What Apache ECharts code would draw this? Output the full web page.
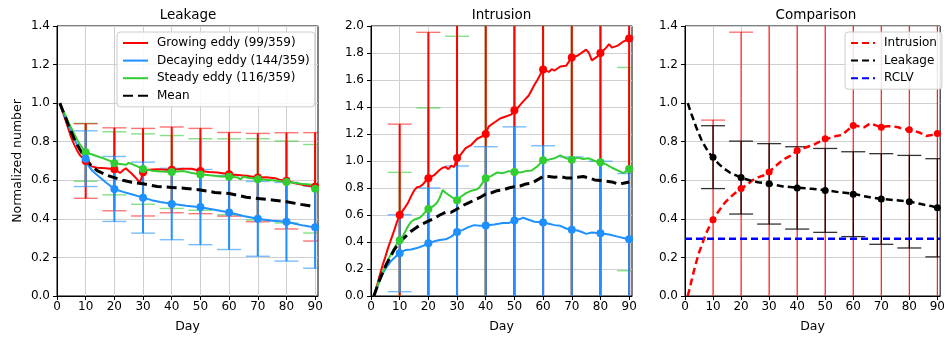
<!DOCTYPE html>
<html>
<head>
<meta charset="utf-8">
<script src="https://cdn.jsdelivr.net/npm/echarts@6/dist/echarts.min.js"></script>
<style>html,body{margin:0;padding:0;background:#fff}#c{width:948px;height:338px}</style>
</head>
<body>
<div id="c"></div>
<script>
// ---------- data ----------
const xTicks = [0,10,20,30,40,50,60,70,80,90];
const errDays = [10,20,30,40,50,60,70,80,90];

// Leakage panel
const leakGrowing = [[1,1.0],[2,0.955],[3,0.91],[4,0.865],[5,0.82],[6,0.785],[7,0.755],[8,0.73],[9,0.715],[10,0.70],[11,0.685],[12,0.672],[14,0.665],[17,0.662],[20,0.657],[21,0.648],[22,0.638],[23,0.652],[24,0.662],[25,0.648],[26,0.635],[27,0.62],[28,0.603],[29,0.59],[30,0.642],[32,0.655],[35,0.657],[38,0.655],[40,0.654],[44,0.66],[47,0.66],[50,0.648],[53,0.643],[56,0.64],[60,0.631],[63,0.628],[66,0.624],[70,0.614],[73,0.616],[76,0.611],[78,0.601],[80,0.597],[83,0.585],[86,0.576],[88,0.57],[90,0.566]];
const leakDecaying = [[1,1.0],[2,0.96],[3,0.925],[4,0.885],[5,0.85],[6,0.815],[7,0.785],[8,0.76],[9,0.735],[10,0.712],[11,0.675],[12,0.655],[13,0.64],[15,0.615],[17,0.59],[20,0.555],[23,0.54],[26,0.528],[30,0.51],[33,0.497],[36,0.487],[40,0.478],[45,0.468],[50,0.46],[55,0.447],[60,0.433],[65,0.415],[70,0.401],[75,0.39],[80,0.385],[83,0.375],[86,0.365],[88,0.36],[90,0.356]];
const leakSteady = [[1,1.0],[2,0.965],[3,0.935],[4,0.9],[5,0.87],[6,0.84],[7,0.81],[8,0.785],[9,0.765],[10,0.745],[12,0.735],[14,0.725],[16,0.715],[18,0.703],[20,0.69],[22,0.685],[24,0.68],[25,0.69],[26,0.685],[28,0.672],[30,0.66],[33,0.65],[36,0.645],[40,0.643],[44,0.648],[47,0.638],[50,0.631],[54,0.625],[57,0.62],[60,0.619],[63,0.615],[64,0.605],[65,0.62],[67,0.612],[70,0.606],[75,0.6],[80,0.592],[85,0.582],[90,0.575]];
const leakMean = [[1,1.0],[2,0.962],[3,0.925],[4,0.885],[5,0.85],[6,0.815],[7,0.785],[8,0.76],[9,0.735],[10,0.712],[12,0.675],[14,0.65],[17,0.628],[20,0.614],[23,0.6],[26,0.59],[30,0.582],[35,0.568],[40,0.563],[45,0.558],[50,0.55],[55,0.537],[60,0.531],[63,0.522],[66,0.512],[70,0.506],[75,0.498],[80,0.489],[85,0.475],[88,0.468],[90,0.46]];
const leakGrowMean = [0.70,0.657,0.642,0.654,0.648,0.631,0.614,0.597,0.566];
const leakGrowErr  = [0.1935,0.215,0.227,0.2225,0.221,0.217,0.229,0.2495,0.281];
const leakDecMean  = [0.712,0.555,0.51,0.477,0.461,0.433,0.4,0.385,0.356];
const leakDecErr   = [0.1445,0.1685,0.184,0.185,0.195,0.192,0.194,0.204,0.212];
const leakSteMean  = [0.745,0.688,0.658,0.643,0.63,0.618,0.605,0.591,0.556];
const leakSteErr   = [0.15,0.1635,0.1825,0.189,0.1855,0.197,0.2105,0.2125,0.2295];

// Intrusion panel
const intrGrowing = [[1,0],[2,0.07],[3,0.15],[4,0.225],[5,0.29],[6,0.36],[7,0.42],[8,0.48],[9,0.545],[10,0.60],[11,0.63],[12,0.66],[13,0.695],[14,0.74],[15,0.78],[16,0.805],[17,0.81],[18,0.825],[19,0.85],[20,0.872],[22,0.895],[24,0.935],[25,0.95],[26,0.955],[27,0.94],[28,0.965],[29,0.955],[30,1.025],[31,1.04],[33,1.095],[35,1.12],[37,1.165],[39,1.185],[40,1.2],[41,1.255],[43,1.285],[45,1.315],[47,1.33],[49,1.345],[50,1.376],[51,1.39],[53,1.44],[55,1.485],[57,1.565],[58,1.6],[59,1.64],[60,1.676],[61,1.67],[62,1.66],[63,1.68],[64,1.67],[66,1.70],[68,1.705],[70,1.768],[72,1.78],[74,1.81],[75,1.825],[76,1.80],[77,1.745],[79,1.775],[80,1.795],[82,1.84],[83,1.865],[84,1.84],[86,1.855],[88,1.885],[90,1.908]];
const intrSteady = [[1,0],[2,0.06],[3,0.12],[4,0.17],[5,0.22],[6,0.27],[7,0.31],[8,0.35],[9,0.385],[10,0.413],[11,0.44],[12,0.48],[13,0.52],[14,0.55],[15,0.565],[17,0.58],[18,0.6],[20,0.645],[22,0.67],[23,0.69],[24,0.73],[25,0.785],[26,0.765],[27,0.75],[28,0.735],[29,0.72],[30,0.71],[31,0.73],[33,0.76],[35,0.78],[37,0.79],[38,0.81],[40,0.873],[42,0.89],[44,0.915],[46,0.91],[48,0.925],[50,0.918],[52,0.915],[54,0.925],[56,0.93],[58,0.96],[60,1.005],[62,1.01],[64,1.02],[66,1.042],[68,1.02],[70,1.01],[72,1.025],[74,1.015],[76,1.02],[78,1.0],[80,0.99],[82,0.975],[84,0.95],[86,0.93],[88,0.91],[89,0.925],[90,0.94]];
const intrDecaying = [[1,0],[2,0.06],[3,0.11],[4,0.16],[5,0.2],[6,0.23],[7,0.26],[8,0.28],[9,0.3],[10,0.317],[11,0.33],[12,0.34],[14,0.345],[16,0.355],[18,0.37],[20,0.39],[22,0.405],[24,0.415],[26,0.42],[28,0.44],[30,0.474],[32,0.49],[34,0.51],[36,0.525],[38,0.52],[40,0.523],[43,0.53],[46,0.54],[48,0.54],[50,0.56],[52,0.57],[53,0.58],[55,0.565],[57,0.55],[60,0.545],[62,0.535],[64,0.525],[66,0.52],[68,0.5],[70,0.49],[72,0.485],[74,0.47],[75,0.46],[77,0.47],[80,0.465],[83,0.455],[86,0.44],[88,0.43],[90,0.42]];
const intrMean = [[1,0],[2,0.06],[3,0.12],[4,0.17],[5,0.22],[6,0.26],[7,0.3],[8,0.34],[9,0.37],[10,0.4],[12,0.44],[14,0.48],[16,0.51],[18,0.535],[20,0.555],[22,0.575],[24,0.6],[26,0.62],[28,0.62],[30,0.645],[32,0.67],[34,0.69],[36,0.71],[38,0.73],[40,0.755],[42,0.765],[44,0.78],[46,0.785],[48,0.8],[50,0.81],[52,0.815],[54,0.83],[56,0.835],[58,0.86],[60,0.885],[62,0.885],[64,0.88],[66,0.885],[68,0.875],[70,0.875],[72,0.88],[74,0.885],[76,0.875],[78,0.86],[80,0.855],[82,0.85],[84,0.845],[86,0.83],[88,0.835],[90,0.845]];
const intrGrowMean = [0.60,0.872,1.022,1.20,1.376,1.678,1.767,1.80,1.907];
const intrGrowErr  = [0.673,1.081,1.3,1.5,1.7,1.9,2.0,2.1,2.2];
const intrSteMean  = [0.413,0.645,0.71,0.873,0.918,1.005,1.01,0.99,0.94];
const intrSteErr   = [0.503,0.748,1.214,1.3,1.35,1.3,1.25,1.2,0.753];
const intrDecMean  = [0.317,0.39,0.474,0.523,0.56,0.545,0.49,0.465,0.42];
const intrDecErr   = [0.285,0.41,0.489,0.583,0.693,0.568,0.54,0.533,0.487];

// Comparison panel
const compIntr = [[1,0],[2,0.06],[3,0.12],[4,0.175],[5,0.225],[6,0.265],[7,0.305],[8,0.34],[9,0.37],[10,0.396],[12,0.44],[14,0.48],[16,0.51],[18,0.535],[20,0.557],[22,0.575],[24,0.6],[26,0.615],[28,0.625],[30,0.643],[32,0.67],[34,0.695],[36,0.715],[38,0.73],[40,0.755],[42,0.765],[44,0.775],[46,0.785],[48,0.8],[50,0.815],[52,0.82],[54,0.83],[56,0.835],[58,0.86],[60,0.884],[62,0.88],[64,0.875],[66,0.895],[68,0.885],[70,0.875],[72,0.88],[74,0.88],[76,0.875],[78,0.865],[80,0.862],[82,0.855],[84,0.845],[86,0.83],[88,0.835],[90,0.843]];
const compLeak = [[1,1.0],[2,0.955],[3,0.915],[4,0.875],[5,0.84],[6,0.805],[7,0.78],[8,0.755],[9,0.735],[10,0.72],[12,0.685],[14,0.66],[16,0.64],[18,0.627],[20,0.614],[23,0.6],[26,0.59],[30,0.581],[35,0.568],[40,0.562],[45,0.556],[50,0.549],[55,0.538],[60,0.531],[63,0.52],[66,0.512],[70,0.503],[75,0.497],[80,0.49],[85,0.474],[88,0.466],[90,0.457]];
const compIntrMean = [0.396,0.557,0.643,0.755,0.815,0.884,0.875,0.862,0.843];
const compIntrErr  = [0.516,0.811,1.0,1.1,1.2,1.3,1.3,1.3,1.3];
const compLeakMean = [0.72,0.614,0.5815,0.5605,0.5475,0.528,0.503,0.489,0.4575];
const compLeakErr  = [0.163,0.189,0.2085,0.2135,0.2175,0.22,0.235,0.24,0.2545];
const rclvLevel = 0.297;
const rclvLine = [[0,rclvLevel],[91,rclvLevel]];

// ---------- styling helpers ----------
const FONT = 'DejaVu Sans';
const RED = '#ff0000', BLUE = '#1e90ff', GREEN = '#32cd32';

function errData(means, errs){ return errDays.map((d,i)=>[d, means[i], errs[i]]); }
function ptData(means){ return errDays.map((d,i)=>[d, means[i]]); }

function errSeries(idx, means, errs, lineColor, capColor, lw, cw, z){
  return {
    type:'custom', xAxisIndex:idx, yAxisIndex:idx, z:z||2, silent:true,
    data: errData(means, errs),
    renderItem: function(params, api){
      const x = api.value(0), m = api.value(1), s = api.value(2);
      const top = api.coord([x, m + s]);
      const bot = api.coord([x, m - s]);
      const cs = params.coordSys;
      const y0 = cs.y, y1 = cs.y + cs.height, xl = cs.x, xr = cs.x + cs.width;
      const ch = [];
      const yt = Math.max(top[1], y0), yb = Math.min(bot[1], y1);
      if (yb > yt) ch.push({type:'line', shape:{x1:top[0], y1:yt, x2:top[0], y2:yb}, style:{stroke:lineColor, lineWidth:lw}});
      const hw = 12;
      const cx1 = Math.max(top[0]-hw, xl), cx2 = Math.min(top[0]+hw, xr);
      [top[1], bot[1]].forEach(function(yy){
        if (yy >= y0 && yy <= y1) ch.push({type:'line', shape:{x1:cx1, y1:yy, x2:cx2, y2:yy}, style:{stroke:capColor, lineWidth:cw}});
      });
      return {type:'group', children:ch};
    }
  };
}
function lineSeries(idx, name, data, color, width, dash, z){
  return {type:'line', name:name, xAxisIndex:idx, yAxisIndex:idx, data:data, symbol:'none', silent:true, z:z||3,
    lineStyle:{color:color, width:width, type: dash ? dash : 'solid'}, itemStyle:{color:color}};
}
function dotSeries(idx, means, color, size){
  return {type:'scatter', xAxisIndex:idx, yAxisIndex:idx, data:ptData(means), symbol:'circle', symbolSize:size, silent:true, z:4,
    itemStyle:{color:color, opacity:1}};
}

const grids = [
  {left:57, top:26, width:261, height:271},
  {left:371, top:26, width:261, height:271},
  {left:685, top:26, width:262, height:271}
].map(g => Object.assign(g, {show:true, borderColor:'#000', borderWidth:1, backgroundColor:'transparent', containLabel:false}));

function xAxis(idx){
  return {type:'value', gridIndex:idx, min:0, max:91, interval:10,
    name:'Day', nameLocation:'middle', nameGap:24, nameTextStyle:{fontFamily:FONT, fontSize:12.5, color:'#000'},
    axisLine:{show:true, lineStyle:{color:'#000', width:1}},
    axisTick:{show:true, length:4, lineStyle:{color:'#000'}, customValues:xTicks},
    axisLabel:{fontFamily:FONT, fontSize:12, color:'#000', margin:5, customValues:xTicks,
      formatter: v => (v % 10 === 0 ? String(v) : '')},
    splitLine:{show:true, lineStyle:{color:'#cfcfcf', width:1}}
  };
}
function yAxis(idx, max, name){
  const a = {type:'value', gridIndex:idx, min:0, max:max, interval:0.2,
    axisLine:{show:true, lineStyle:{color:'#000', width:1}},
    axisTick:{show:true, length:4, lineStyle:{color:'#000'}},
    axisLabel:{fontFamily:FONT, fontSize:12, color:'#000', margin:7, formatter: v => v.toFixed(1)},
    splitLine:{show:true, lineStyle:{color:'#cfcfcf', width:1}}
  };
  if (name){ a.name = name; a.nameLocation='middle'; a.nameGap=33; a.nameTextStyle={fontFamily:FONT, fontSize:12.5, color:'#000'}; }
  return a;
}

const legendBase = {orient:'vertical', itemHeight:14, itemGap:3.6, selectedMode:false,
  itemStyle:{opacity:0, borderWidth:0},
  backgroundColor:'rgba(255,255,255,0.85)', borderColor:'#cccccc', borderWidth:1, borderRadius:3,
  textStyle:{fontFamily:FONT, fontSize:12, color:'#000', lineHeight:14, padding:[0,0,0,4]}};

const option = {
  animation:false,
  backgroundColor:'#fff',
  title:[
    {text:'Leakage', left:188, top:8.5, textAlign:'center', padding:0, textStyle:{fontFamily:FONT, fontSize:13.5, fontWeight:'normal', color:'#000'}},
    {text:'Intrusion', left:501.5, top:8.5, textAlign:'center', padding:0, textStyle:{fontFamily:FONT, fontSize:13.5, fontWeight:'normal', color:'#000'}},
    {text:'Comparison', left:816, top:8.5, textAlign:'center', padding:0, textStyle:{fontFamily:FONT, fontSize:13.5, fontWeight:'normal', color:'#000'}}
  ],
  legend:[
    Object.assign({}, legendBase, {left:117, top:32, padding:[4,5,4,5], itemWidth:25,
      data:['Growing eddy (99/359)','Decaying eddy (144/359)','Steady eddy (116/359)','Mean']}),
    Object.assign({}, legendBase, {left:845, top:32, padding:[4,5,4,5], itemWidth:24,
      data:['Intrusion','Leakage','RCLV']})
  ],
  grid: grids,
  xAxis: [xAxis(0), xAxis(1), xAxis(2)],
  yAxis: [yAxis(0, 1.4, 'Normalized number'), yAxis(1, 2.0), yAxis(2, 1.4)],
  series: [
    // Leakage
    errSeries(0, leakSteMean, leakSteErr, GREEN, 'rgba(50,205,50,0.6)', 2, 1.4),
    errSeries(0, leakGrowMean, leakGrowErr, RED, 'rgba(255,0,0,0.55)', 2, 1.4),
    errSeries(0, leakDecMean, leakDecErr, BLUE, 'rgba(30,144,255,0.6)', 2, 1.4),
    lineSeries(0, 'Growing eddy (99/359)', leakGrowing, RED, 2),
    lineSeries(0, 'Decaying eddy (144/359)', leakDecaying, BLUE, 2),
    lineSeries(0, 'Steady eddy (116/359)', leakSteady, GREEN, 2),
    lineSeries(0, 'Mean', leakMean, '#000', 3, [10,5]),
    dotSeries(0, leakGrowMean, RED, 8),
    dotSeries(0, leakSteMean, GREEN, 8),
    dotSeries(0, leakDecMean, BLUE, 8),
    // Intrusion
    errSeries(1, intrSteMean, intrSteErr, GREEN, 'rgba(50,205,50,0.6)', 2, 1.4),
    errSeries(1, intrGrowMean, intrGrowErr, RED, 'rgba(255,0,0,0.55)', 2, 1.4),
    errSeries(1, intrDecMean, intrDecErr, BLUE, 'rgba(30,144,255,0.6)', 2, 1.4),
    lineSeries(1, 'Growing (intrusion)', intrGrowing, RED, 2),
    lineSeries(1, 'Decaying (intrusion)', intrDecaying, BLUE, 2),
    lineSeries(1, 'Steady (intrusion)', intrSteady, GREEN, 2),
    lineSeries(1, 'Mean (intrusion)', intrMean, '#000', 3, [10,5]),
    dotSeries(1, intrGrowMean, RED, 8),
    dotSeries(1, intrSteMean, GREEN, 8),
    dotSeries(1, intrDecMean, BLUE, 8),
    // Comparison
    errSeries(2, compIntrMean, compIntrErr, 'rgba(255,0,0,0.85)', 'rgba(255,0,0,0.55)', 1.2, 1.4),
    errSeries(2, compLeakMean, compLeakErr, '#000', 'rgba(0,0,0,0.8)', 1.2, 1.3),
    lineSeries(2, 'Intrusion', compIntr, RED, 2.5, [7,4]),
    lineSeries(2, 'Leakage', compLeak, '#000', 2.5, [7,4]),
    lineSeries(2, 'RCLV', rclvLine, '#0000ff', 2.5, [7,4]),
    dotSeries(2, compIntrMean, RED, 7),
    dotSeries(2, compLeakMean, '#000', 7)
  ]
};

const chart = echarts.init(document.getElementById('c'), null, {renderer:'canvas'});
chart.setOption(option);
</script>
</body>
</html>
